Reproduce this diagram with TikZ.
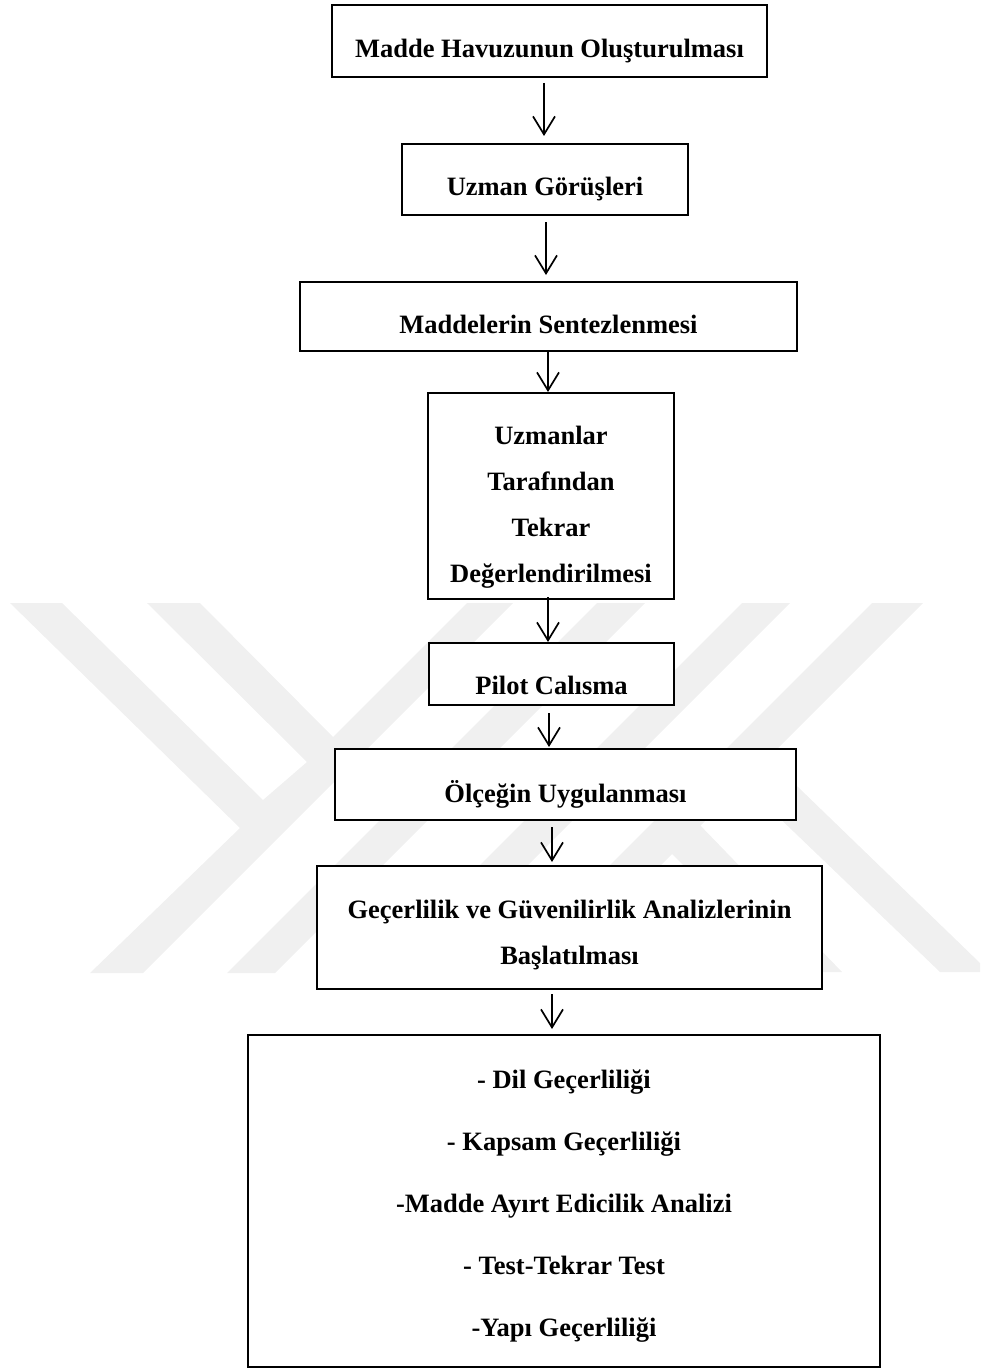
\documentclass[tikz,border=0pt]{standalone}
\usepackage{fontspec}
\setmainfont{Liberation Serif}
\usetikzlibrary{arrows.meta}

\begin{document}
\begin{tikzpicture}[x=1pt,y=-1pt]
                \tikzset{Box/.style={rectangle, draw=black, fill=white, line width=1.8pt, inner sep=0pt, outer sep=0pt, text depth=0pt, align=center, font=\fontsize{26.5}{46}\bfseries\selectfont}}
                \tikzset{Flow/.style={-{Straight Barb[length=18pt,width=22pt]}, line width=1.7pt}}
                \tikzset{Mark/.style={fill=black!6}}

                \useasboundingbox (0,0) rectangle (980,1370);

                \fill[Mark] (10,603) -- (62,603) -- (263,800) -- (307,762) -- (147,603) -- (200,603) -- (333,737) -- (467,603) -- (513,603) -- (143,973) -- (90,973) -- (240,828) -- cycle;
                \fill[Mark] (227,973) -- (275,973) -- (645,603) -- (597,603) -- cycle;
                \fill[Mark] (372,973) -- (420,973) -- (790,603) -- (742,603) -- cycle;
                \fill[Mark] (502,973) -- (553,973) -- (923,603) -- (872,603) -- cycle;
                \fill[Mark] (768,758) -- (980,963) -- (980,972) -- (940,972) -- (745,785) -- cycle;
                \fill[Mark] (697,822) -- (842,972) -- (792,972) -- (668,850) -- cycle;

                \node[Box, minimum width=435, minimum height=72, text height=33](N01) at (549.5,41) {Madde Havuzunun Oluşturulması};
                \node[Box, minimum width=286, minimum height=71, text height=32](N02) at (545,179.5) {Uzman Görüşleri};
                \node[Box, minimum width=497, minimum height=69, text height=33](N03) at (548.5,316.5) {Maddelerin Sentezlenmesi};
                \node[Box, minimum width=246, minimum height=206, text height=172](N04) at (551,496) {Uzmanlar\\Tarafından\\Tekrar\\Değerlendirilmesi};
                \node[Box, minimum width=245, minimum height=62, text height=40](N05) at (551.5,674) {Pilot Calısma};
                \node[Box, minimum width=461, minimum height=71, text height=35](N06) at (565.5,784.5) {Ölçeğin Uygulanması};
                \node[Box, minimum width=505, minimum height=123, text height=73](N07) at (569.5,927.5) {Geçerlilik ve Güvenilirlik Analizlerinin\\Başlatılması};
                \node[Box, minimum width=632, minimum height=332, text height=270, font=\fontsize{26.5}{62}\bfseries\selectfont](N08) at (564,1201) {- Dil Geçerliliği\\- Kapsam Geçerliliği\\-Madde Ayırt Edicilik Analizi\\- Test-Tekrar Test\\-Yapı Geçerliliği};

                \draw[Flow] ([xshift=-5.5,yshift=-6]N01.south) -- ([xshift=-1,yshift=8]N02.north);
                \draw[Flow] ([xshift=1,yshift=-7]N02.south) -- ([xshift=-2.5,yshift=7]N03.north);
                \draw[Flow] ([xshift=-0.5]N03.south) -- ([xshift=-3,yshift=1]N04.north);
                \draw[Flow] ([xshift=-3,yshift=2]N04.south) -- ([xshift=-3.5,yshift=1]N05.north);
                \draw[Flow] ([xshift=-2.5,yshift=-8]N05.south) -- ([xshift=-16.5,yshift=2]N06.north);
                \draw[Flow] ([xshift=-13.5,yshift=-7]N06.south) -- ([xshift=-17.5,yshift=4]N07.north);
                \draw[Flow] ([xshift=-17.5,yshift=-5]N07.south) -- ([xshift=-12,yshift=6]N08.north);
            \end{tikzpicture}
\end{document}
